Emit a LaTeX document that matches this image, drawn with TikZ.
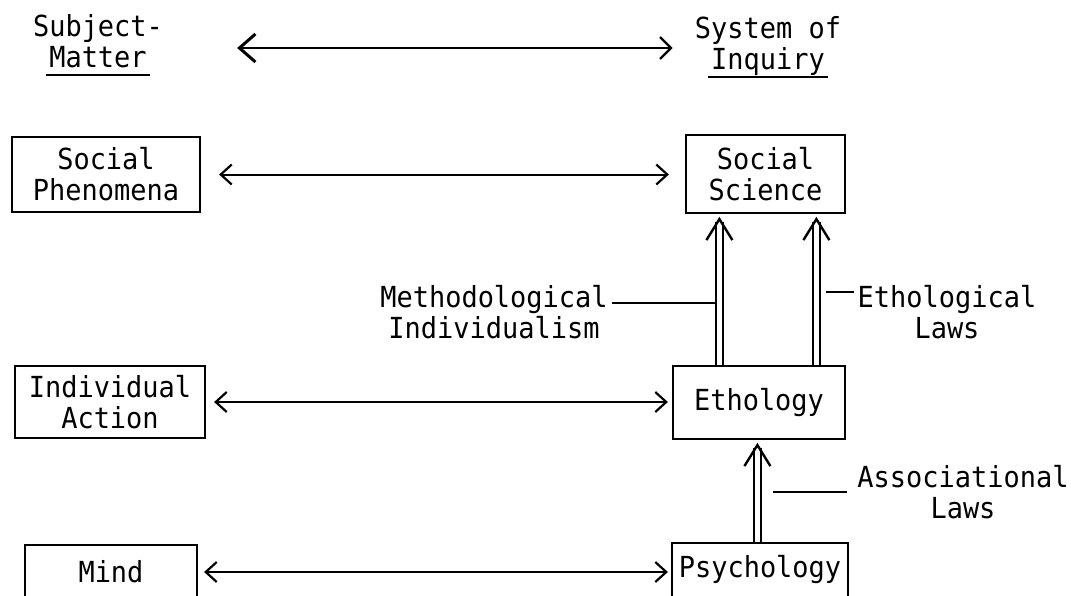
\documentclass[tikz,border=0pt]{standalone}
\usepackage{fontspec}
\setmainfont{DejaVu Sans Mono}[FakeStretch=0.93]
\usetikzlibrary{arrows.meta,calc}
\newcommand\myul[1]{\setbox0\hbox{#1}\rlap{\kern-3pt\rule[-8pt]{\dimexpr\wd0+6pt\relax}{2pt}}\box0}
\begin{document}
\begin{tikzpicture}[x=1pt,y=-1pt,
  every node/.style={font=\fontsize{29}{31}\selectfont},
  box/.style={draw, line width=2.2pt, inner sep=0pt, align=center},
  lbl/.style={inner sep=0pt, align=center},
  harr/.style={line width=2pt, {Straight Barb[length=11pt,width=20pt,line width=2.2pt]}-{Straight Barb[length=11pt,width=20pt,line width=2.2pt]}},
  bigarr/.style={line width=2pt, {Straight Barb[length=16pt,width=28pt,line width=3pt]}-{Straight Barb[length=11pt,width=22pt,line width=2.4pt]}},
  dbl/.style={draw, line width=2.2pt, double, double distance=5pt},
  vhead/.style={line width=2.4pt, line join=miter},
  lead/.style={line width=2pt}]
\useasboundingbox (0,0) rectangle (1071,595);
\clip (0,0) rectangle (1071,595);

% headers
\node[lbl] (sm)  at (98,45)  {Subject-\\\myul{Matter}};
\node[lbl] (soi) at (768,47) {System of\\\myul{Inquiry}};

% boxes
\node[box, minimum width=188pt, minimum height=75pt] (sp)  at (106,174.5) {Social\\Phenomena};
\node[box, minimum width=159pt, minimum height=78pt] (ss)  at (765.5,174) {Social\\Science};
\node[box, minimum width=190pt, minimum height=72pt] (ia)  at (110,402)   {Individual\\Action};
\node[box, minimum width=172pt, minimum height=73pt] (eth) at (759,402.5) {Ethology};
\node[box, minimum width=172pt, minimum height=54pt] (mind) at (111,572)  {Mind};
\node[box, minimum width=176pt, minimum height=54pt] (psy)  at (760,570)  {Psychology};

% labels
\node[lbl] (mi) at (494,312) {Methodological\\Individualism};
\node[lbl] (el) at (947,312) {Ethological\\Laws};
\node[lbl] (al) at (963,492) {Associational\\Laws};

% horizontal arrows
\draw[bigarr, shorten <=74pt, shorten >=22pt] (sm.east |- 0,48) -- (soi.west |- 0,48);
\draw[harr, shorten <=18pt, shorten >=16pt] (sp.east) -- (sp.east -| ss.west);
\draw[harr, shorten <=8pt, shorten >=4pt] (ia.east) -- (ia.east -| eth.west);
\draw[harr, shorten <=6pt, shorten >=3pt] (mind.east) -- (mind.east -| psy.west);

% double arrows
\coordinate (d1b) at ($(eth.north west)+(47.5,0)$);
\coordinate (d1t) at (d1b |- ss.south);
\coordinate (d2b) at ($(eth.north west)+(144.5,0)$);
\coordinate (d2t) at (d2b |- ss.south);
\coordinate (d3b) at ($(psy.north west)+(86.5,0)$);
\coordinate (d3t) at (d3b |- eth.south);
\foreach \b/\t in {d1b/d1t, d2b/d2t, d3b/d3t}{
  \draw[dbl] (\b) -- ($(\t)+(0,8)$);
  \draw[vhead] ($(\t)+(-13,26)$) -- ($(\t)+(0,5)$) -- ($(\t)+(13,26)$);
}

% leader lines
\coordinate (m1) at (612,303);
\draw[lead] (m1) -- ($(m1 -| d1b)+(-4,0)$);
\coordinate (e1) at (826,292);
\draw[lead] (e1) -- ($(e1 -| el.west)+(-4,0)$);
\coordinate (a1) at (773,492);
\draw[lead] (a1) -- (847,492);
\end{tikzpicture}
\end{document}
